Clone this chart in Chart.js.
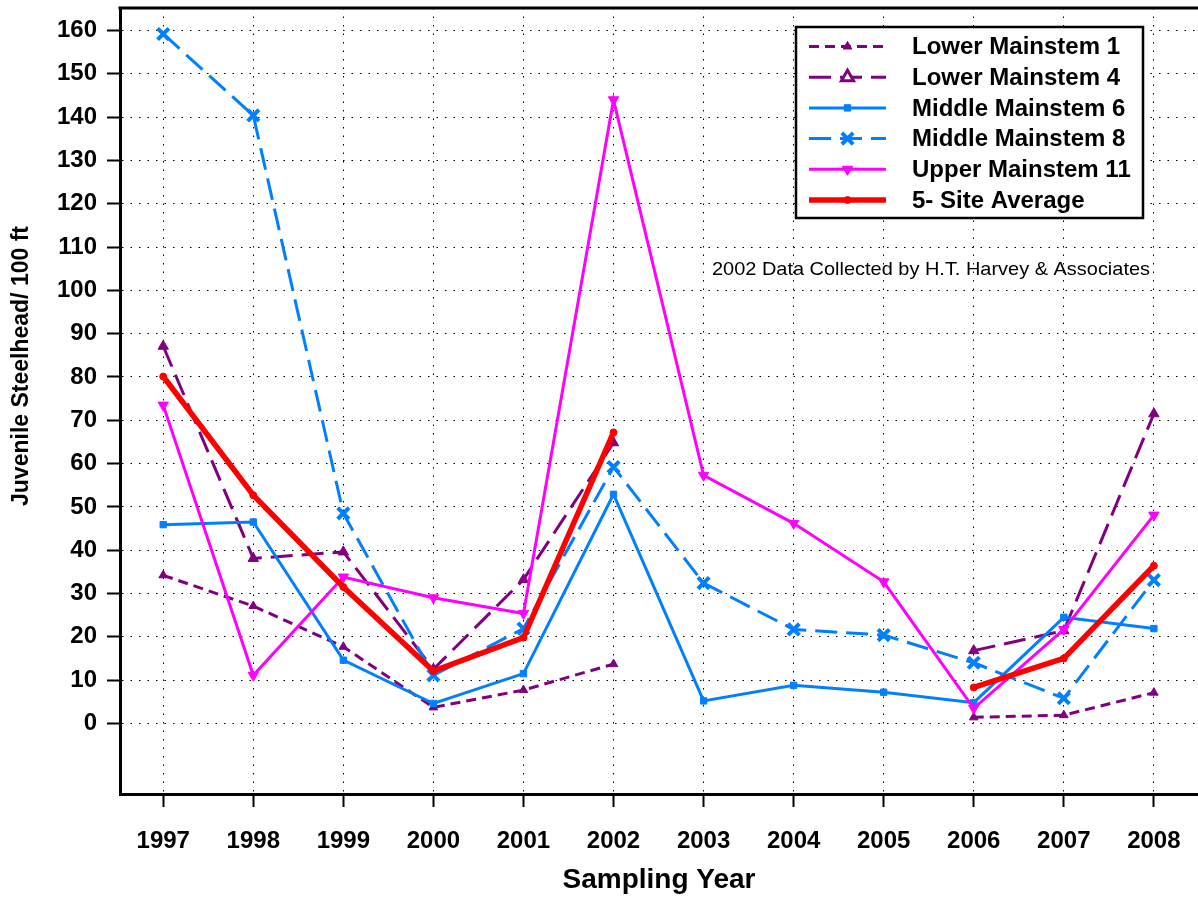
<!DOCTYPE html>
<html>
<head>
<meta charset="utf-8">
<script src="https://cdn.jsdelivr.net/npm/chart.js@4.4.1/dist/chart.umd.min.js"></script>
<style>
  html, body { margin: 0; padding: 0; background: #fff; }
  canvas { display: block; }
</style>
</head>
<body>
<canvas id="chart" width="1198" height="897"></canvas>
<script>
const years = [1997, 1998, 1999, 2000, 2001, 2002, 2003, 2004, 2005, 2006, 2007, 2008];
const yTicks = [0, 10, 20, 30, 40, 50, 60, 70, 80, 90, 100, 110, 120, 130, 140, 150, 160];

const lowerMainstem1 = [34.2, 27.1, 17.7, 3.7, 7.7, 13.7, null, null, null, 1.4, 1.9, 7.1];
const lowerMainstem4 = [87.1, 38.1, 39.6, 12.5, 33.2, 64.8, null, null, null, 16.8, 21.4, 71.5];
const middleMainstem6 = [45.9, 46.5, 14.6, 4.6, 11.5, 52.9, 5.2, 8.8, 7.2, 4.8, 24.5, 21.9];
const middleMainstem8 = [159.2, 140.4, 48.5, 11.1, 21.9, 59.2, 32.4, 21.7, 20.4, 14.0, 5.8, 33.1];
const upperMainstem11 = [73.5, 11.1, 33.8, 29.0, 25.4, 144.0, 57.3, 46.2, 32.7, 3.5, 21.7, 48.1];
const siteAverage = [80.1, 52.7, 31.5, 12.1, 19.8, 67.2, null, null, null, 8.3, 15.0, 36.4];

const yTitle = "Juvenile Steelhead/ 100 ft";
const note = "2002 Data Collected by H.T. Harvey & Associates";

const family = "'Liberation Sans', Arial, sans-serif";
const purple = "#800080";
const blue = "#0080ff";
const magenta = "#ff00ff";
const red = "#ff0000";

const points = (values) => values.map((v, i) => ({ x: years[i], y: v }));

// frame on top, y title, legend box and the note, drawn straight on the canvas
const extras = {
  id: "extras",
  afterDraw(chart) {
    const { ctx, chartArea } = chart;
    ctx.save();
    ctx.strokeStyle = "#000";
    ctx.lineWidth = 3;
    ctx.beginPath();
    ctx.moveTo(chartArea.left - 1.5, chartArea.top);
    ctx.lineTo(chartArea.right, chartArea.top);
    ctx.stroke();

    // y title sits a bit above the middle of the axis
    ctx.save();
    ctx.translate(22, 366);
    ctx.rotate(-Math.PI / 2);
    ctx.fillStyle = "#000";
    ctx.font = "bold 23px " + family;
    ctx.textAlign = "center";
    ctx.textBaseline = "middle";
    ctx.fillText(yTitle, 0, 0);
    ctx.restore();

    // legend
    ctx.fillStyle = "#fff";
    ctx.fillRect(796, 27, 347, 191);
    ctx.lineWidth = 2.5;
    ctx.strokeRect(796, 27, 347, 191);

    chart.data.datasets.forEach((ds, i) => {
      const y = 46.5 + i * 30.7;
      ctx.strokeStyle = ds.borderColor;
      ctx.lineWidth = ds.borderWidth;
      ctx.setLineDash(ds.borderDash || []);
      ctx.beginPath();
      ctx.moveTo(809, y);
      ctx.lineTo(886, y);
      ctx.stroke();
      ctx.setLineDash([]);

      ctx.fillStyle = ds.legendFill || ds.pointBackgroundColor;
      ctx.strokeStyle = ds.borderColor;
      ctx.lineWidth = ds.legendFill ? 3 : ds.pointBorderWidth;
      Chart.helpers.drawPoint(ctx, {
        pointStyle: ds.pointStyle,
        rotation: ds.pointRotation || 0,
        radius: ds.pointRadius + (ds.legendFill ? 1 : 0),
        borderWidth: ctx.lineWidth,
      }, 847.5, y);

      ctx.fillStyle = "#000";
      ctx.font = "bold 24px " + family;
      ctx.textBaseline = "middle";
      ctx.textAlign = "left";
      ctx.fillText(ds.label, 912, y + 1);
    });

    // note under the legend
    ctx.font = "19px " + family;
    ctx.textBaseline = "alphabetic";
    const w = ctx.measureText(note).width;
    ctx.translate(712, 275);
    ctx.scale(438 / w, 1);
    ctx.fillStyle = "#000";
    ctx.fillText(note, 0, 0);
    ctx.restore();
  },
};

const ctx = document.getElementById("chart").getContext("2d");

const chart = new Chart(ctx, {
  type: "line",
  data: {
    datasets: [
      {
        label: "Lower Mainstem 1",
        data: points(lowerMainstem1),
        borderColor: purple,
        borderWidth: 3,
        borderDash: [10, 6],
        pointStyle: "triangle",
        pointRadius: 5,
        pointBorderWidth: 1,
        pointBackgroundColor: purple,
        order: 6,
      },
      {
        label: "Lower Mainstem 4",
        data: points(lowerMainstem4),
        borderColor: purple,
        borderWidth: 3,
        borderDash: [22, 9],
        pointStyle: "triangle",
        pointRadius: 6,
        pointBorderWidth: 1,
        pointBackgroundColor: purple,
        legendFill: "#fff",
        order: 5,
      },
      {
        label: "Middle Mainstem 6",
        data: points(middleMainstem6),
        borderColor: blue,
        borderWidth: 3,
        pointStyle: "rect",
        pointRadius: 4.5,
        pointBorderWidth: 1,
        pointBackgroundColor: blue,
        order: 4,
      },
      {
        label: "Middle Mainstem 8",
        data: points(middleMainstem8),
        borderColor: blue,
        borderWidth: 3,
        borderDash: [22, 9],
        pointStyle: "crossRot",
        pointRadius: 8,
        pointBorderWidth: 4,
        pointBackgroundColor: blue,
        order: 3,
      },
      {
        label: "Upper Mainstem 11",
        data: points(upperMainstem11),
        borderColor: magenta,
        borderWidth: 3,
        pointStyle: "triangle",
        pointRotation: 180,
        pointRadius: 6,
        pointBorderWidth: 1,
        pointBackgroundColor: magenta,
        order: 2,
      },
      {
        label: "5- Site Average",
        data: points(siteAverage),
        borderColor: red,
        borderWidth: 5.5,
        pointStyle: "circle",
        pointRadius: 3.5,
        pointBorderWidth: 1,
        pointBackgroundColor: red,
        order: 1,
      },
    ],
  },
  options: {
    responsive: false,
    animation: false,
    spanGaps: false,
    layout: { autoPadding: false, padding: { top: 8, right: 0, bottom: 0, left: 0 } },
    plugins: {
      legend: { display: false },
      tooltip: { enabled: false },
    },
    scales: {
      x: {
        type: "linear",
        min: 1996.52,
        max: 2008.49,
        afterBuildTicks: (s) => { s.ticks = years.map((v) => ({ value: v })); },
        afterFit: (s) => { s.height = 103; s.paddingLeft = 0; s.paddingRight = 0; },
        ticks: {
          color: "#000",
          font: { family, size: 24, weight: "bold" },
          padding: 20,
          maxRotation: 0,
          autoSkip: false,
          callback: (v) => String(v),
        },
        grid: { color: "#000", lineWidth: 1, tickLength: 13, tickWidth: 2, tickColor: "#000" },
        border: { display: true, color: "#000", width: 3, dash: [1.5, 7] },
        title: {
          display: true,
          text: "Sampling Year",
          color: "#000",
          font: { family, size: 28, weight: "bold" },
          padding: { top: 0, bottom: 0 },
        },
      },
      y: {
        min: -16.3,
        max: 165.2,
        afterBuildTicks: (s) => { s.ticks = yTicks.map((v) => ({ value: v })); },
        afterFit: (s) => { s.width = 120; s.paddingTop = 0; s.paddingBottom = 0; },
        ticks: {
          color: "#000",
          font: { family, size: 24, weight: "bold" },
          padding: 10,
          callback: (v) => String(v),
        },
        grid: { color: "#000", lineWidth: 1, tickLength: 13, tickWidth: 2, tickColor: "#000" },
        border: { display: true, color: "#000", width: 3, dash: [1.5, 7] },
      },
    },
  },
  plugins: [extras],
});
</script>
</body>
</html>
